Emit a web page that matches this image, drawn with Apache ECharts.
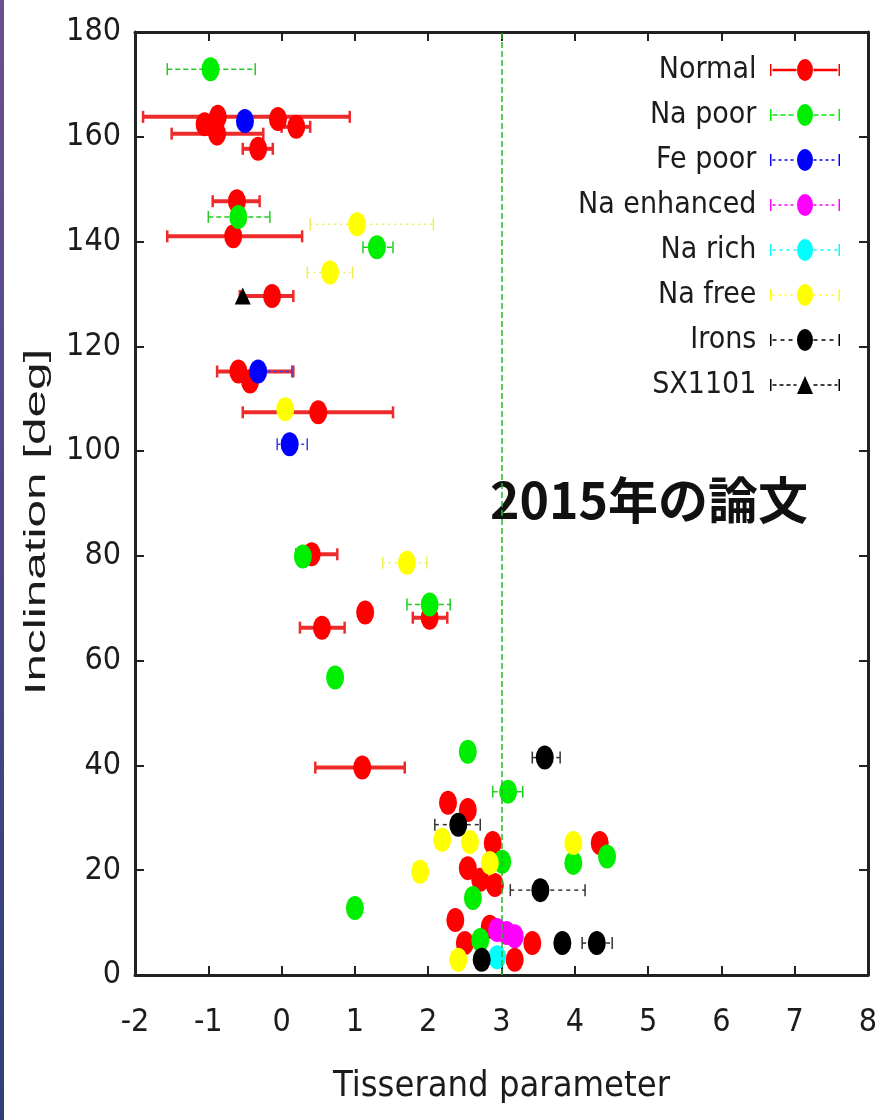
<!DOCTYPE html>
<html>
<head>
<meta charset="utf-8">
<script src="https://cdn.jsdelivr.net/npm/echarts@6/dist/echarts.min.js"></script>
<style>
  html, body { margin: 0; padding: 0; background: #fff; }
  #chart { width: 881px; height: 1120px; }
</style>
</head>
<body>
<div id="chart"></div>
<script>
// Each point: [Tisserand parameter, inclination (deg), error low, error high]
const normal = [
  [-1.05, 162.4, null, null],
  [-0.87, 163.8, -1.89, 0.93],
  [-0.88, 160.6, -1.50, -0.25],
  [-0.05, 163.4, null, null],
  [0.20, 161.9, 0.00, 0.39],
  [-0.32, 157.7, -0.53, -0.12],
  [-0.61, 147.7, -0.94, -0.30],
  [-0.66, 141.0, -1.56, 0.28],
  [-0.13, 129.6, -0.57, 0.16],
  [-0.59, 115.2, -0.88, 0.16],
  [-0.43, 113.3, null, null],
  [0.50, 107.4, -0.53, 1.52],
  [0.41, 80.3, 0.20, 0.76],
  [1.14, 69.2, null, null],
  [2.02, 68.2, 1.79, 2.26],
  [0.55, 66.3, 0.25, 0.86],
  [1.10, 39.6, 0.46, 1.68],
  [2.27, 32.9, null, null],
  [2.54, 31.5, null, null],
  [2.88, 25.2, null, null],
  [2.54, 20.4, null, null],
  [2.71, 18.2, null, null],
  [2.91, 17.2, null, null],
  [4.34, 25.2, null, null],
  [2.37, 10.5, null, null],
  [2.50, 6.1, null, null],
  [2.84, 9.2, null, null],
  [3.18, 2.9, null, null],
  [3.42, 6.1, null, null]
];
const naPoor = [
  [-0.97, 172.9, -1.56, -0.36],
  [-0.59, 144.7, -1.00, -0.16],
  [1.30, 138.9, 1.11, 1.52],
  [0.29, 79.9, null, null],
  [2.02, 70.7, 1.71, 2.30],
  [0.73, 56.8, null, null],
  [2.54, 42.6, null, null],
  [3.09, 35.0, 2.88, 3.29],
  [3.01, 21.6, null, null],
  [3.98, 21.4, null, null],
  [4.44, 22.6, null, null],
  [2.61, 14.7, null, null],
  [1.00, 12.8, null, null],
  [2.71, 6.7, null, null]
];
const fePoor = [
  [-0.50, 163.0, null, null],
  [-0.32, 115.2, -0.68, 0.14],
  [0.11, 101.3, -0.06, 0.35]
];
const naEnhanced = [
  [2.94, 8.6, null, null],
  [3.07, 8.0, null, null],
  [3.18, 7.4, null, null]
];
const naRich = [
  [2.94, 3.4, null, null]
];
const naFree = [
  [1.03, 143.3, 0.39, 2.07],
  [0.66, 134.1, 0.35, 0.97],
  [0.05, 108.0, null, null],
  [1.71, 78.7, 1.38, 1.98],
  [2.19, 25.8, null, null],
  [2.57, 25.4, null, null],
  [2.84, 21.4, null, null],
  [1.89, 19.7, null, null],
  [3.98, 25.2, null, null],
  [2.41, 2.9, null, null]
];
const irons = [
  [3.59, 41.5, 3.42, 3.80],
  [2.41, 28.7, 2.09, 2.71],
  [3.53, 16.2, 3.12, 4.14],
  [2.73, 2.9, null, null],
  [3.83, 6.1, null, null],
  [4.30, 6.1, 4.10, 4.51]
];
const sx1101 = [
  [-0.53, 129.6, null, null]
];

// Axis ranges and the Tisserand = 3 reference line
const xRange = [-2, 8];
const xStep = 1;
const yRange = [0, 180];
const yStep = 20;
const tisserandLimit = 3;

const groups = [
  { name: 'Normal',      color: '#ff0000', bar: '#ee2b2b', width: 4,   dash: null,   data: normal },
  { name: 'Na poor',     color: '#00ee00', bar: '#22cc22', width: 1.5, dash: [5, 3], data: naPoor },
  { name: 'Fe poor',     color: '#0000ff', bar: '#3344ee', width: 1.5, dash: [3, 3], data: fePoor },
  { name: 'Na enhanced', color: '#ff00ff', bar: '#ee44ee', width: 1.5, dash: [3, 3], data: naEnhanced },
  { name: 'Na rich',     color: '#00ffff', bar: '#22cccc', width: 1.5, dash: [3, 4], data: naRich },
  { name: 'Na free',     color: '#ffff00', bar: '#eeee55', width: 1.5, dash: [2, 4], data: naFree },
  { name: 'Irons',       color: '#000000', bar: '#333333', width: 1.5, dash: [4, 4], data: irons },
  { name: 'SX1101',      color: '#000000', bar: '#333333', width: 1.5, dash: [4, 3], data: sx1101, triangle: true }
];

const narrow = "'Liberation Sans Narrow', 'DejaVu Sans Condensed', 'Arial Narrow', sans-serif";
const ink = '#1c1c1c';

// Legend key: capped error bar with the point marker in the middle
function legendIcon(dash, triangle) {
  const W = 70, mid = 11;
  const rect = (x, y, w, h) => `M${x} ${y}h${w}v${h}h${-w}Z`;
  let d = rect(0, 5, 1.5, 12) + rect(W - 1.5, 5, 1.5, 12);
  const seg = (a, b) => {
    if (!dash) { d += rect(a, mid - 1.25, b - a, 2.5); return; }
    for (let x = a; x < b - 0.5; x += dash[0] + dash[1]) {
      d += rect(x, mid - 0.75, Math.min(dash[0], b - x), 1.5);
    }
  };
  seg(2.5, 26.5);
  seg(43.5, W - 2.5);
  d += triangle ? 'M35 2L43 20L27 20Z' : 'M27 11A8 11 0 1 1 43 11A8 11 0 1 1 27 11Z';
  return 'path://' + d;
}

const series = [];
groups.forEach(g => {
  series.push({
    name: g.name,
    type: 'scatter',
    z: 3,
    data: g.data.map(p => [p[0], p[1]]),
    symbol: g.triangle ? 'triangle' : 'circle',
    symbolSize: g.triangle ? [16, 17] : [18, 24],
    itemStyle: { color: g.color, opacity: 1 },
    emphasis: { disabled: true }
  });
});
groups.forEach(g => {
  const withBars = g.data.filter(p => p[2] != null);
  if (!withBars.length) return;
  series.push({
    name: g.name,
    type: 'custom',
    z: 2,
    data: withBars,
    encode: { x: 0, y: 1 },
    itemStyle: { color: g.color },
    renderItem: (params, api) => {
      const y = api.value(1);
      const a = api.coord([api.value(2), y]);
      const b = api.coord([api.value(3), y]);
      const cap = 6;
      const lineStyle = { stroke: g.bar, lineWidth: g.width, lineDash: g.dash || null };
      const capStyle = { stroke: g.bar, lineWidth: g.dash ? 1.5 : 2.5 };
      return {
        type: 'group',
        children: [
          { type: 'line', shape: { x1: a[0], y1: a[1], x2: b[0], y2: b[1] }, style: lineStyle },
          { type: 'line', shape: { x1: a[0], y1: a[1] - cap, x2: a[0], y2: a[1] + cap }, style: capStyle },
          { type: 'line', shape: { x1: b[0], y1: b[1] - cap, x2: b[0], y2: b[1] + cap }, style: capStyle }
        ]
      };
    }
  });
});
// Tisserand parameter = 3 boundary
series.push({
  type: 'line',
  data: [],
  markLine: {
    silent: true,
    symbol: 'none',
    label: { show: false },
    lineStyle: { color: '#22bb22', type: [6, 3], width: 1.5 },
    data: [{ xAxis: tisserandLimit }]
  }
});

const axisLine = { onZero: false, lineStyle: { color: '#222', width: 3 } };
const axisTick = { inside: true, length: 9, lineStyle: { color: '#222', width: 2 } };

const option = {
  backgroundColor: '#ffffff',
  animation: false,
  grid: { left: 135, right: 13, top: 32, bottom: 145 },
  xAxis: [
    {
      type: 'value', min: xRange[0], max: xRange[1], interval: xStep, position: 'bottom',
      axisLine, axisTick, splitLine: { show: false },
      axisLabel: { margin: 32, fontSize: 32, fontFamily: narrow, color: ink },
      name: 'Tisserand parameter', nameLocation: 'middle', nameGap: 94,
      nameTextStyle: { fontSize: 36, fontFamily: narrow, color: ink }
    },
    {
      type: 'value', min: xRange[0], max: xRange[1], interval: xStep, position: 'top',
      axisLine, axisTick, splitLine: { show: false }, axisLabel: { show: false }
    }
  ],
  yAxis: [
    {
      type: 'value', min: yRange[0], max: yRange[1], interval: yStep, position: 'left',
      axisLine, axisTick, splitLine: { show: false },
      axisLabel: { margin: 14, fontSize: 32, fontFamily: narrow, color: ink }
    },
    {
      type: 'value', min: yRange[0], max: yRange[1], interval: yStep, position: 'right',
      axisLine, axisTick, splitLine: { show: false }, axisLabel: { show: false }
    }
  ],
  legend: {
    orient: 'vertical',
    right: 41,
    top: 55,
    align: 'right',
    padding: 0,
    itemWidth: 70,
    itemHeight: 22,
    itemGap: 15,
    selectedMode: false,
    formatter: n => n + ' ',
    textStyle: { fontFamily: narrow, fontSize: 30, lineHeight: 30, color: ink },
    data: groups.map(g => ({ name: g.name, icon: legendIcon(g.dash, g.triangle) }))
  },
  graphic: [
    {
      type: 'rect', x: 0, y: 0, shape: { width: 4, height: 1120 },
      style: {
        fill: new echarts.graphic.LinearGradient(0, 0, 0, 1, [
          { offset: 0, color: '#6b5090' }, { offset: 1, color: '#2f3f7a' }
        ])
      }
    },
    {
      type: 'text', x: 37, y: 522, rotation: Math.PI / 2, scaleX: 1.65,
      style: {
        text: 'Inclination [deg]', fill: ink,
        font: "30px 'Liberation Sans', Arial, sans-serif",
        align: 'center', verticalAlign: 'middle'
      }
    },
    {
      type: 'text', x: 490, y: 500,
      style: {
        text: '2015年の論文', fill: '#111',
        font: "bold 50px 'Noto Sans CJK JP', sans-serif",
        align: 'left', verticalAlign: 'middle'
      }
    }
  ],
  series
};

const chart = echarts.init(document.getElementById('chart'));
chart.setOption(option);
</script>
</body>
</html>
